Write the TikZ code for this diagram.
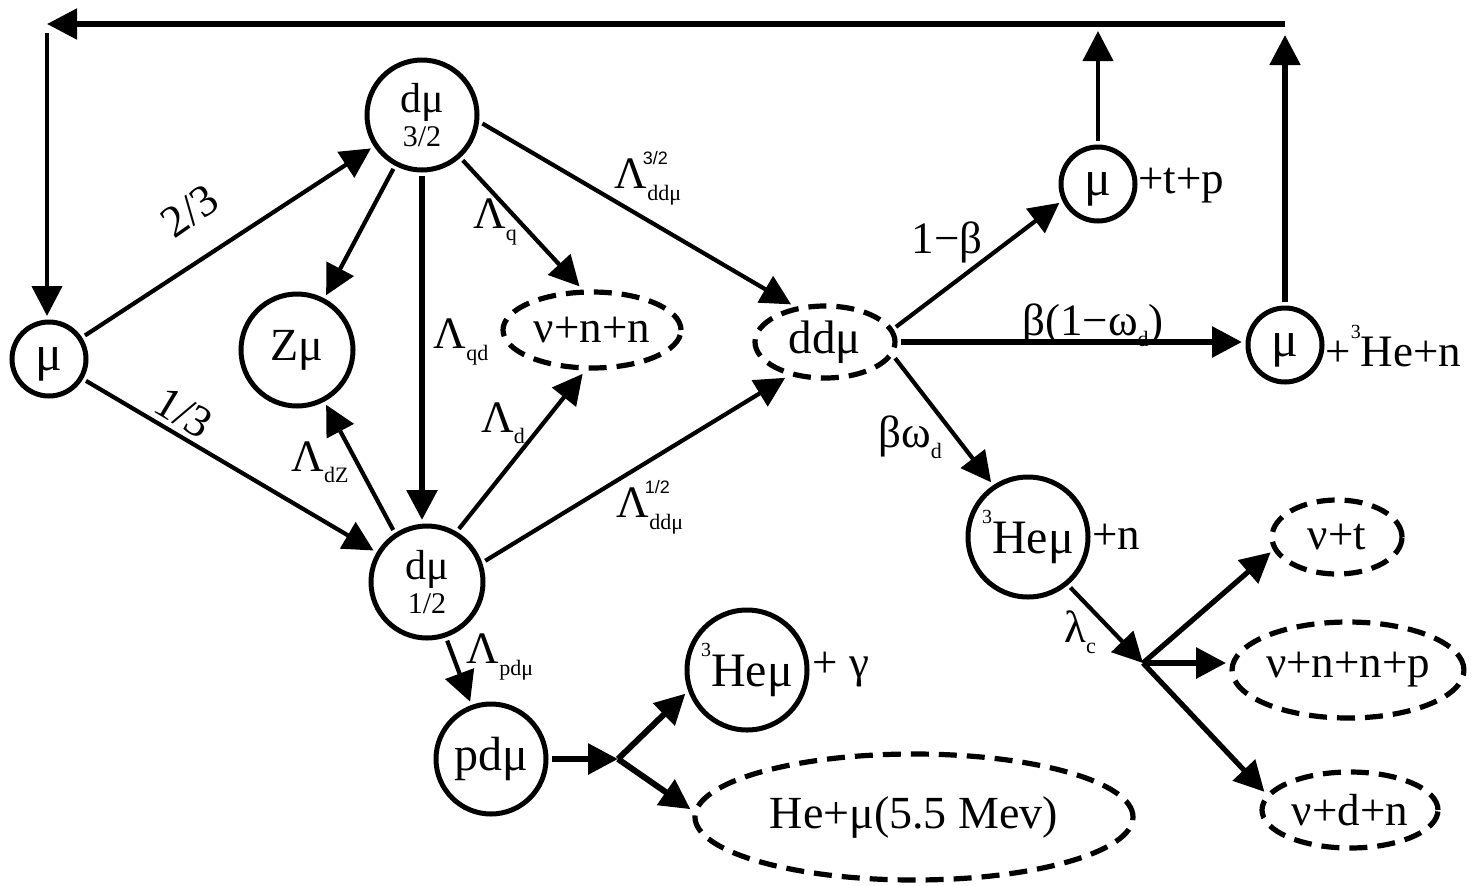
\documentclass[tikz,border=0pt]{standalone}
\usepackage{fontspec}
\setmainfont{Liberation Serif}
\setsansfont{Liberation Sans}
\usetikzlibrary{arrows.meta,shapes.geometric}
\newcommand\lsb[1]{\raisebox{-0.25em}{\fontsize{11}{11}\selectfont #1}}
\newcommand\lsbsp[2]{\rlap{\raisebox{0.55em}{\hspace{-0.1em}\sffamily\fontsize{9}{9}\selectfont #2}}\raisebox{-0.25em}{\fontsize{11}{11}\selectfont #1}}
\newcommand\supthree{\raisebox{0.62em}{\fontsize{10}{10}\selectfont 3}}
\tikzset{
  lab/.style={font=\fontsize{22.5}{24}\selectfont, inner sep=0pt},
  circ/.style={font=\fontsize{23}{24}\selectfont, inner sep=0pt, circle, draw, line width=2.5pt, outer sep=3pt},
  mucirc/.style={circ, minimum size=37pt, font=\fontsize{25}{26}\selectfont, text depth=0pt},
  dcirc/.style={circ, align=center, font=\fontsize{15}{24}\selectfont},
  dell/.style={font=\fontsize{22.5}{24}\selectfont, inner sep=0pt, ellipse, draw, line width=2.6pt, dash pattern=on 9pt off 5pt, outer sep=3pt},
  arr/.style={line width=2.1pt, -{Triangle[length=15pt,width=15pt]}},
  marr/.style={line width=2.6pt, -{Triangle[length=15pt,width=15pt]}},
  tarr/.style={line width=3pt, -{Triangle[length=15pt,width=15pt]}},
}
\begin{document}
\begin{tikzpicture}[x=0.5pt,y=-0.5pt]
\fill[white] (0,0) rectangle (1474,885);
\useasboundingbox (0,0) rectangle (1474,885);

% nodes
\node[mucirc] (mu) at (49,359) {μ};
\node[dcirc, minimum size=55pt] (d32) at (422,115) {{\fontsize{21}{21}\selectfont dμ}\\[-7pt]3/2};
\node[circ, minimum size=56pt] (zmu) at (297,350) {Zμ};
\node[dcirc, minimum size=56pt] (d12) at (427,582) {{\fontsize{21}{21}\selectfont dμ}\\[-7pt]1/2};
\node[dell, minimum width=89pt, minimum height=38pt] (nnn) at (592,330) {ν+n+n};
\node[dell, minimum width=70pt, minimum height=36pt, font=\fontsize{23.5}{24}\selectfont] (ddmu) at (825,342) {ddμ};
\node[mucirc] (mutp) at (1098,184) {μ};
\node[lab, anchor=west] (tptext) at (1138,186) {+t+p};
\node[mucirc] (muhe) at (1285,345) {μ};
\node[lab, anchor=west] (hentext) at (1325,346) {+\supthree He+n};
\node[circ, minimum size=60pt, font=\fontsize{24}{24}\selectfont] (he3n) at (1028,537) {\supthree Heμ};
\node[lab, anchor=west] (ntext) at (1092,537) {+n};
\node[dell, minimum width=65pt, minimum height=37pt] (nut) at (1337,537) {ν+t};
\node[dell, minimum width=114pt, minimum height=48pt] (nunnp) at (1348,670) {ν+n+n+p};
\node[dell, minimum width=88pt, minimum height=38pt] (nudn) at (1350,810) {ν+d+n};
\node[circ, minimum size=55pt, font=\fontsize{24}{24}\selectfont] (pdmu) at (491,759) {pdμ};
\node[circ, minimum size=60pt, font=\fontsize{24}{24}\selectfont] (he3g) at (747,670) {\supthree Heμ};
\node[lab, anchor=west] (gtext) at (812,670) {+ γ};
\node[dell, minimum width=219pt, minimum height=63pt, font=\fontsize{23}{24}\selectfont] (hemu) at (914,817) {He+μ(5.5 Mev)};

% coordinates
\coordinate (sp1) at (618,759);
\coordinate (sp2) at (1143,663);
\coordinate (mtop) at (1098,31);
\coordinate (htop) at (1285,35);
\coordinate (tr) at (1285,24);
\coordinate (tl) at (47,24);
\coordinate (ls) at (47,33);

% connectors
\draw[arr] (mu) -- (d32);
\draw[arr] (mu) -- (d12);
\draw[arr] (d32) -- (zmu);
\draw[tarr] (d32.south) -- (d32.south |- d12.north);
\draw[arr] (d32.-48) -- (nnn.106);
\draw[arr] (d32.-8) -- (ddmu.132);
\draw[arr] (d12.123) -- (zmu.-62);
\draw[arr] (d12.59) -- (nnn.-102);
\draw[arr] (d12.20) -- (ddmu.-138);
\draw[arr] (d12.-71) -- (pdmu.110);
\draw[tarr] (pdmu.east) -- (sp1);
\draw[tarr] (sp1) -- (he3g.201);
\draw[tarr] (sp1) -- (hemu.178);
\draw[arr] (ddmu.12) -- (mutp.206);
\draw[tarr] (ddmu.east) -- (ddmu.east -| muhe.west);
\draw[arr] (ddmu.-13) -- (he3n.124);
\draw[arr] (he3n.-50) -- (sp2);
\draw[marr] (sp2) -- (nut.193);
\draw[tarr] (sp2) -- (sp2 -| nunnp.west);
\draw[marr] (sp2) -- (nudn.168);
\draw[arr] (mutp) -- (mtop);
\draw[marr] (muhe) -- (htop);
\draw[marr] (tr) -- (tl);
\draw[arr] (ls) -- (ls |- mu.north);

% labels
\node[lab, rotate=35] (l23) at (190,211) {2/3};
\node[lab, rotate=-31] (l13) at (184,413) {1/3};
\node[lab] (lq) at (495,222) {Λ\lsb{q}};
\node[lab] (l32) at (648,178) {Λ\lsbsp{ddμ}{3/2}};
\node[lab] (lqd) at (461,342) {Λ\lsb{qd}};
\node[lab] (ld) at (503,423) {Λ\lsb{d}};
\node[lab] (l12) at (650,507) {Λ\lsbsp{ddμ}{1/2}};
\node[lab] (ldz) at (320,462) {Λ\lsb{dZ}};
\node[lab] (lpd) at (500,657) {Λ\lsb{pdμ}};
\node[lab] (lb) at (947,242) {1−β};
\node[lab] (lbw) at (1093,325) {β(1−ω\lsb{d})};
\node[lab] (lbwd) at (910,437) {βω\lsb{d}};
\node[lab] (llc) at (1080,632) {λ\lsb{c}};
\end{tikzpicture}
\end{document}
